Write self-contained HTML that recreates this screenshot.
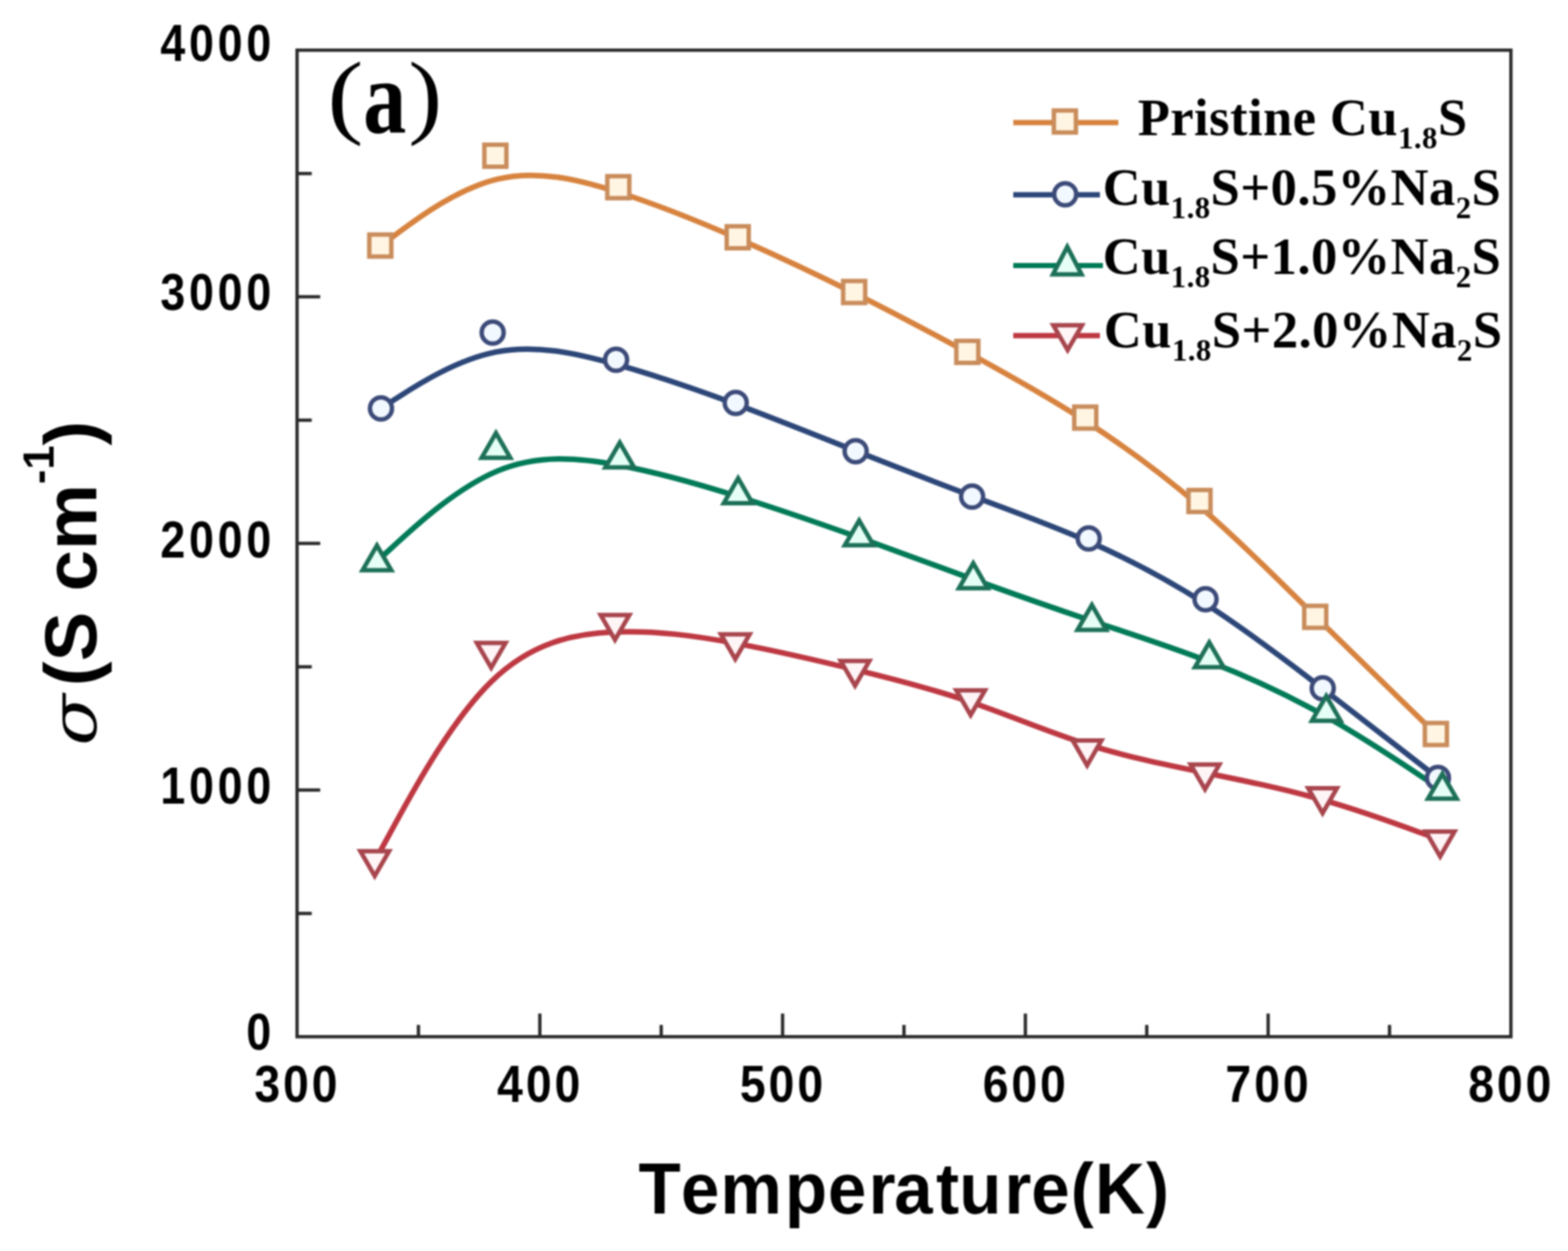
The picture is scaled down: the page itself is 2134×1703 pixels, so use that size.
<!DOCTYPE html>
<html><head><meta charset="utf-8"><title>Electrical conductivity vs temperature</title>
<style>
html,body{margin:0;padding:0;background:#fff;}
body{width:2134px;height:1703px;overflow:hidden;}
svg{display:block;}
#wrap{width:2134px;height:1703px;filter:blur(0.8px);}
.sans{font-family:"Liberation Sans",Arial,Helvetica,sans-serif;font-weight:bold;}
.serif{font-family:"Liberation Serif","Times New Roman",serif;}
</style></head><body><div id="wrap">
<svg width="2134" height="1703" viewBox="0 0 2134 1703">
<rect x="0" y="0" width="2134" height="1703" fill="#ffffff"/>
<rect x="404.3" y="68.3" width="1652" height="1343" fill="none" stroke="#2a2a2a" stroke-width="4.5"/>
<path d="M569.5 1411.3 V1395.3 M734.7 1411.3 V1379.8 M899.9 1411.3 V1395.3 M1065.1 1411.3 V1379.8 M1230.3 1411.3 V1395.3 M1395.5 1411.3 V1379.8 M1560.7 1411.3 V1395.3 M1725.9 1411.3 V1379.8 M1891.1 1411.3 V1395.3 M404.3 1243.42 H424.3 M404.3 1075.55 H435.8 M404.3 907.67 H424.3 M404.3 739.8 H435.8 M404.3 571.92 H424.3 M404.3 404.05 H435.8 M404.3 236.17 H424.3" stroke="#2a2a2a" stroke-width="4.5" fill="none"/>
<g class="sans" font-size="70" fill="#000">
<text transform="translate(404.82,1500) scale(0.9,1)" x="0" y="0" text-anchor="middle" letter-spacing="4.5">300</text>
<text transform="translate(735.23,1500) scale(0.9,1)" x="0" y="0" text-anchor="middle" letter-spacing="4.5">400</text>
<text transform="translate(1065.63,1500) scale(0.9,1)" x="0" y="0" text-anchor="middle" letter-spacing="4.5">500</text>
<text transform="translate(1396.03,1500) scale(0.9,1)" x="0" y="0" text-anchor="middle" letter-spacing="4.5">600</text>
<text transform="translate(1726.43,1500) scale(0.9,1)" x="0" y="0" text-anchor="middle" letter-spacing="4.5">700</text>
<text transform="translate(2056.83,1500) scale(0.9,1)" x="0" y="0" text-anchor="middle" letter-spacing="4.5">800</text>
<text transform="translate(374.13,1429.3) scale(0.87,1)" x="0" y="0" text-anchor="end" letter-spacing="5.9">0</text>
<text transform="translate(374.13,1093.55) scale(0.87,1)" x="0" y="0" text-anchor="end" letter-spacing="5.9">1000</text>
<text transform="translate(374.13,759.3) scale(0.87,1)" x="0" y="0" text-anchor="end" letter-spacing="5.9">2000</text>
<text transform="translate(374.13,422.05) scale(0.87,1)" x="0" y="0" text-anchor="end" letter-spacing="5.9">3000</text>
<text transform="translate(374.13,82.8) scale(0.87,1)" x="0" y="0" text-anchor="end" letter-spacing="5.9">4000</text>
</g>
<text class="sans" transform="translate(0,1652) scale(0.95,1)" x="914.73 975.57 1032.03 1124.37 1185.99 1244.58 1281 1341.18 1374.28 1439 1477.25 1533.92 1568.64 1641.94" y="0" font-size="99" fill="#000">Temperature(K)</text>
<g transform="translate(131,1010) rotate(-90)" fill="#000"><text x="-4.2" y="0" font-family="DejaVu Serif" font-style="italic" font-size="87" transform="scale(1.18,1)">σ</text><text class="sans" x="76" y="0" font-size="101">(S cm<tspan font-size="59" dy="-58.5" dx="0">-1</tspan><tspan dy="58.5">)</tspan></text></g>
<path d="M517.35 335.16 C517.35 335.16 517.35 335.16 543.72 315.6 C570.08 296.03 622.81 256.91 676.86 243.9 C730.91 230.9 786.27 244.03 841.03 261.55 C895.79 279.07 949.94 300.99 1003.42 324.38 C1056.89 347.77 1109.7 372.64 1161.77 398.65 C1213.83 424.67 1265.17 451.83 1317.58 480.33 C1370 508.83 1423.5 538.67 1476.17 572.5 C1528.83 606.33 1580.67 644.17 1632.83 689.37 C1685 734.57 1737.5 787.13 1791.12 840 C1844.73 892.87 1899.47 946.03 1926.83 972.62 C1954.2 999.2 1954.2 999.2 1954.2 999.2" fill="none" stroke="#d7833f" stroke-width="7.5" stroke-linejoin="round" stroke-linecap="round"/>
<path d="M518.18 555.82 C518.18 555.82 518.18 555.82 544.1 539.31 C570.03 522.8 621.88 489.78 675.06 479.19 C728.24 468.59 782.75 480.43 837.36 495.7 C891.97 510.98 946.67 529.71 1001.21 550.05 C1055.75 570.39 1110.13 592.34 1163.73 613.6 C1217.33 634.87 1270.17 655.43 1323.03 675.22 C1375.9 695 1428.8 714 1481.75 737.3 C1534.7 760.6 1587.7 788.2 1640.78 822.2 C1693.87 856.2 1747.03 896.6 1799.75 937.13 C1852.47 977.67 1904.73 1018.33 1930.87 1038.67 C1957 1059 1957 1059 1957 1059" fill="none" stroke="#2c4678" stroke-width="7.5" stroke-linejoin="round" stroke-linecap="round"/>
<path d="M513.62 763.61 C513.62 763.61 513.62 763.61 540.95 738.58 C568.28 713.55 622.93 663.49 677.7 640.87 C732.46 618.24 787.33 623.05 841.82 633.2 C896.31 643.36 950.41 658.85 1004.93 676.04 C1059.45 693.23 1114.37 712.12 1167.72 731.29 C1221.07 750.47 1272.83 769.93 1325.62 789.13 C1378.4 808.33 1432.2 827.27 1485.73 845.2 C1539.27 863.13 1592.53 880.07 1645.7 900.7 C1698.87 921.33 1751.93 945.67 1804.8 975.5 C1857.67 1005.33 1910.33 1040.67 1936.67 1058.33 C1963 1076 1963 1076 1963 1076" fill="none" stroke="#007a57" stroke-width="7.5" stroke-linejoin="round" stroke-linecap="round"/>
<path d="M511.66 1169.33 C511.66 1169.33 511.66 1169.33 537.35 1122.22 C563.03 1075.11 614.4 980.9 668.75 927.76 C723.09 874.63 780.41 862.57 836.27 860.32 C892.14 858.06 946.55 865.6 1000.88 875.68 C1055.21 885.76 1109.45 898.38 1162.79 911.36 C1216.13 924.33 1268.57 937.67 1321.2 955.72 C1373.83 973.77 1426.67 996.53 1479.83 1013.37 C1533 1030.2 1586.5 1041.1 1639.92 1051.95 C1693.33 1062.8 1746.67 1073.6 1800 1088.82 C1853.33 1104.03 1906.67 1123.67 1933.33 1133.48 C1960 1143.3 1960 1143.3 1960 1143.3" fill="none" stroke="#be3842" stroke-width="7.5" stroke-linejoin="round" stroke-linecap="round"/>
<rect x="502.6" y="319.3" width="30" height="30" fill="#fff5e2" stroke="#c98c5b" stroke-width="6.0"/>
<rect x="659.2" y="197" width="30" height="30" fill="#fff5e2" stroke="#c98c5b" stroke-width="6.0"/>
<rect x="826.5" y="239.8" width="30" height="30" fill="#fff5e2" stroke="#c98c5b" stroke-width="6.0"/>
<rect x="989" y="308" width="30" height="30" fill="#fff5e2" stroke="#c98c5b" stroke-width="6.0"/>
<rect x="1147.5" y="382.5" width="30" height="30" fill="#fff5e2" stroke="#c98c5b" stroke-width="6.0"/>
<rect x="1301.5" y="464" width="30" height="30" fill="#fff5e2" stroke="#c98c5b" stroke-width="6.0"/>
<rect x="1462" y="553.5" width="30" height="30" fill="#fff5e2" stroke="#c98c5b" stroke-width="6.0"/>
<rect x="1617.5" y="667" width="30" height="30" fill="#fff5e2" stroke="#c98c5b" stroke-width="6.0"/>
<rect x="1775" y="824.7" width="30" height="30" fill="#fff5e2" stroke="#c98c5b" stroke-width="6.0"/>
<rect x="1939.2" y="984.2" width="30" height="30" fill="#fff5e2" stroke="#c98c5b" stroke-width="6.0"/>
<circle cx="518.5" cy="556" r="15.0" fill="#f2f8ff" stroke="#3b4a78" stroke-width="6.0"/>
<circle cx="670.5" cy="452.8" r="15.0" fill="#f2f8ff" stroke="#3b4a78" stroke-width="6.0"/>
<circle cx="838.5" cy="489.8" r="15.0" fill="#f2f8ff" stroke="#3b4a78" stroke-width="6.0"/>
<circle cx="1001.3" cy="548.6" r="15.0" fill="#f2f8ff" stroke="#3b4a78" stroke-width="6.0"/>
<circle cx="1164.5" cy="614.3" r="15.0" fill="#f2f8ff" stroke="#3b4a78" stroke-width="6.0"/>
<circle cx="1323" cy="676" r="15.0" fill="#f2f8ff" stroke="#3b4a78" stroke-width="6.0"/>
<circle cx="1481.7" cy="733" r="15.0" fill="#f2f8ff" stroke="#3b4a78" stroke-width="6.0"/>
<circle cx="1640.7" cy="815.8" r="15.0" fill="#f2f8ff" stroke="#3b4a78" stroke-width="6.0"/>
<circle cx="1800.2" cy="937" r="15.0" fill="#f2f8ff" stroke="#3b4a78" stroke-width="6.0"/>
<circle cx="1957" cy="1059" r="15.0" fill="#f2f8ff" stroke="#3b4a78" stroke-width="6.0"/>
<polygon points="513,742.4 532.57,776.3 493.43,776.3" fill="#e6fff6" stroke="#1d7058" stroke-width="6.0" stroke-linejoin="miter"/>
<polygon points="675,589.4 694.57,623.3 655.43,623.3" fill="#e6fff6" stroke="#1d7058" stroke-width="6.0" stroke-linejoin="miter"/>
<polygon points="843.5,602.4 863.07,636.3 823.93,636.3" fill="#e6fff6" stroke="#1d7058" stroke-width="6.0" stroke-linejoin="miter"/>
<polygon points="1004.6,651.1 1024.17,685 985.03,685" fill="#e6fff6" stroke="#1d7058" stroke-width="6.0" stroke-linejoin="miter"/>
<polygon points="1169.3,708.4 1188.87,742.3 1149.73,742.3" fill="#e6fff6" stroke="#1d7058" stroke-width="6.0" stroke-linejoin="miter"/>
<polygon points="1324.6,766.8 1344.17,800.7 1305.03,800.7" fill="#e6fff6" stroke="#1d7058" stroke-width="6.0" stroke-linejoin="miter"/>
<polygon points="1486,823.6 1505.57,857.5 1466.43,857.5" fill="#e6fff6" stroke="#1d7058" stroke-width="6.0" stroke-linejoin="miter"/>
<polygon points="1645.8,874.4 1665.37,908.3 1626.23,908.3" fill="#e6fff6" stroke="#1d7058" stroke-width="6.0" stroke-linejoin="miter"/>
<polygon points="1805,947.4 1824.57,981.3 1785.43,981.3" fill="#e6fff6" stroke="#1d7058" stroke-width="6.0" stroke-linejoin="miter"/>
<polygon points="1963,1053.4 1982.57,1087.3 1943.43,1087.3" fill="#e6fff6" stroke="#1d7058" stroke-width="6.0" stroke-linejoin="miter"/>
<polygon points="510,1192.6 529.57,1158.7 490.43,1158.7" fill="#fff4f6" stroke="#a8454d" stroke-width="6.0" stroke-linejoin="miter"/>
<polygon points="668.5,909.1 688.07,875.2 648.93,875.2" fill="#fff4f6" stroke="#a8454d" stroke-width="6.0" stroke-linejoin="miter"/>
<polygon points="837,871.1 856.57,837.2 817.43,837.2" fill="#fff4f6" stroke="#a8454d" stroke-width="6.0" stroke-linejoin="miter"/>
<polygon points="1000.7,897.3 1020.27,863.4 981.13,863.4" fill="#fff4f6" stroke="#a8454d" stroke-width="6.0" stroke-linejoin="miter"/>
<polygon points="1163.7,933.6 1183.27,899.7 1144.13,899.7" fill="#fff4f6" stroke="#a8454d" stroke-width="6.0" stroke-linejoin="miter"/>
<polygon points="1321,973.6 1340.57,939.7 1301.43,939.7" fill="#fff4f6" stroke="#a8454d" stroke-width="6.0" stroke-linejoin="miter"/>
<polygon points="1479.5,1041.9 1499.07,1008 1459.93,1008" fill="#fff4f6" stroke="#a8454d" stroke-width="6.0" stroke-linejoin="miter"/>
<polygon points="1640,1074.6 1659.57,1040.7 1620.43,1040.7" fill="#fff4f6" stroke="#a8454d" stroke-width="6.0" stroke-linejoin="miter"/>
<polygon points="1800,1107 1819.57,1073.1 1780.43,1073.1" fill="#fff4f6" stroke="#a8454d" stroke-width="6.0" stroke-linejoin="miter"/>
<polygon points="1960,1165.9 1979.57,1132 1940.43,1132" fill="#fff4f6" stroke="#a8454d" stroke-width="6.0" stroke-linejoin="miter"/>
<g class="serif" font-weight="bold" fill="#000"><text transform="translate(445.6,171.6) scale(1.15,1)" font-size="128" font-weight="normal">(</text><text transform="translate(494.15,180.4) scale(0.826,1)" font-size="142.2">a</text><text transform="translate(555.8,171.6) scale(1.08,1)" font-size="128" font-weight="normal">)</text></g>
<path d="M1379 166.8 H1522" stroke="#d7833f" stroke-width="7.2" fill="none"/>
<rect x="1434.3" y="150.4" width="30" height="30" fill="#fff5e2" stroke="#c98c5b" stroke-width="6.0"/>
<text class="serif" x="1548.5" y="183.5" font-size="71.5" font-weight="bold" letter-spacing="0.6" fill="#000">Pristine Cu<tspan font-size="42" dy="18">1.8</tspan><tspan dy="-18">S</tspan></text>
<path d="M1379 265.2 H1497" stroke="#2c4678" stroke-width="7.2" fill="none"/>
<circle cx="1449.7" cy="264.4" r="15.0" fill="#f2f8ff" stroke="#3b4a78" stroke-width="6.0"/>
<text class="serif" x="1500.7" y="278.6" font-size="71.5" font-weight="bold" letter-spacing="0.6" fill="#000">Cu<tspan font-size="42" dy="18">1.8</tspan><tspan dy="-18">S+0.5%Na</tspan><tspan font-size="42" dy="18">2</tspan><tspan dy="-18">S</tspan></text>
<path d="M1379 361.5 H1501" stroke="#007a57" stroke-width="7.2" fill="none"/>
<polygon points="1452.5,336 1472,373.4 1433,373.4" fill="#e6fff6" stroke="#1d7058" stroke-width="6.0"/>
<text class="serif" x="1500.7" y="373.2" font-size="71.5" font-weight="bold" letter-spacing="0.6" fill="#000">Cu<tspan font-size="42" dy="18">1.8</tspan><tspan dy="-18">S+1.0%Na</tspan><tspan font-size="42" dy="18">2</tspan><tspan dy="-18">S</tspan></text>
<path d="M1379 456.8 H1497" stroke="#be3842" stroke-width="7.2" fill="none"/>
<polygon points="1453,476.6 1472.57,442.7 1433.43,442.7" fill="#fff4f6" stroke="#a8454d" stroke-width="6.0" stroke-linejoin="miter"/>
<text class="serif" x="1502.3" y="473.3" font-size="71.5" font-weight="bold" letter-spacing="0.6" fill="#000">Cu<tspan font-size="42" dy="18">1.8</tspan><tspan dy="-18">S+2.0%Na</tspan><tspan font-size="42" dy="18">2</tspan><tspan dy="-18">S</tspan></text>
</svg></div></body></html>
